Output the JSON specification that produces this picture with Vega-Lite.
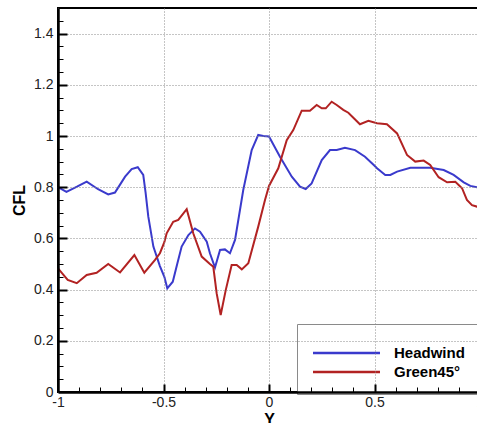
{
  "$schema": "https://vega.github.io/schema/vega-lite/v6.json",
  "width": 422,
  "height": 384,
  "autosize": {"type": "none"},
  "padding": {"left": 58, "top": 8, "right": 0, "bottom": 31},
  "background": "white",
  "config": {
    "view": {"stroke": "black", "strokeWidth": 2},
    "font": "Liberation Sans"
  },
  "datasets": {
    "curves": [
      {"case": "Headwind", "Y": -1.0, "CFL": 0.8},
      {"case": "Headwind", "Y": -0.96, "CFL": 0.782},
      {"case": "Headwind", "Y": -0.91, "CFL": 0.802},
      {"case": "Headwind", "Y": -0.864, "CFL": 0.822},
      {"case": "Headwind", "Y": -0.81, "CFL": 0.792},
      {"case": "Headwind", "Y": -0.762, "CFL": 0.772},
      {"case": "Headwind", "Y": -0.73, "CFL": 0.779},
      {"case": "Headwind", "Y": -0.7, "CFL": 0.818},
      {"case": "Headwind", "Y": -0.682, "CFL": 0.841},
      {"case": "Headwind", "Y": -0.651, "CFL": 0.871},
      {"case": "Headwind", "Y": -0.622, "CFL": 0.878},
      {"case": "Headwind", "Y": -0.596, "CFL": 0.848},
      {"case": "Headwind", "Y": -0.585, "CFL": 0.78},
      {"case": "Headwind", "Y": -0.572, "CFL": 0.685},
      {"case": "Headwind", "Y": -0.548, "CFL": 0.568},
      {"case": "Headwind", "Y": -0.517, "CFL": 0.492},
      {"case": "Headwind", "Y": -0.496, "CFL": 0.45},
      {"case": "Headwind", "Y": -0.482, "CFL": 0.405},
      {"case": "Headwind", "Y": -0.456, "CFL": 0.431},
      {"case": "Headwind", "Y": -0.435, "CFL": 0.5},
      {"case": "Headwind", "Y": -0.414, "CFL": 0.568},
      {"case": "Headwind", "Y": -0.382, "CFL": 0.613},
      {"case": "Headwind", "Y": -0.351, "CFL": 0.639},
      {"case": "Headwind", "Y": -0.327, "CFL": 0.626},
      {"case": "Headwind", "Y": -0.295, "CFL": 0.587},
      {"case": "Headwind", "Y": -0.28, "CFL": 0.542},
      {"case": "Headwind", "Y": -0.256, "CFL": 0.486},
      {"case": "Headwind", "Y": -0.232, "CFL": 0.555},
      {"case": "Headwind", "Y": -0.209, "CFL": 0.557},
      {"case": "Headwind", "Y": -0.185, "CFL": 0.542},
      {"case": "Headwind", "Y": -0.161, "CFL": 0.594},
      {"case": "Headwind", "Y": -0.122, "CFL": 0.789},
      {"case": "Headwind", "Y": -0.082, "CFL": 0.945},
      {"case": "Headwind", "Y": -0.051, "CFL": 1.004},
      {"case": "Headwind", "Y": -0.027, "CFL": 1.0},
      {"case": "Headwind", "Y": 0.0, "CFL": 0.998},
      {"case": "Headwind", "Y": 0.052, "CFL": 0.919},
      {"case": "Headwind", "Y": 0.108, "CFL": 0.841},
      {"case": "Headwind", "Y": 0.147, "CFL": 0.802},
      {"case": "Headwind", "Y": 0.174, "CFL": 0.793},
      {"case": "Headwind", "Y": 0.202, "CFL": 0.815},
      {"case": "Headwind", "Y": 0.25, "CFL": 0.906},
      {"case": "Headwind", "Y": 0.289, "CFL": 0.945},
      {"case": "Headwind", "Y": 0.321, "CFL": 0.945},
      {"case": "Headwind", "Y": 0.36, "CFL": 0.954},
      {"case": "Headwind", "Y": 0.408, "CFL": 0.945},
      {"case": "Headwind", "Y": 0.455, "CFL": 0.919},
      {"case": "Headwind", "Y": 0.499, "CFL": 0.885},
      {"case": "Headwind", "Y": 0.512, "CFL": 0.874},
      {"case": "Headwind", "Y": 0.551, "CFL": 0.848},
      {"case": "Headwind", "Y": 0.575, "CFL": 0.848},
      {"case": "Headwind", "Y": 0.607, "CFL": 0.861},
      {"case": "Headwind", "Y": 0.67, "CFL": 0.876},
      {"case": "Headwind", "Y": 0.764, "CFL": 0.876},
      {"case": "Headwind", "Y": 0.828, "CFL": 0.867},
      {"case": "Headwind", "Y": 0.875, "CFL": 0.848},
      {"case": "Headwind", "Y": 0.923, "CFL": 0.819},
      {"case": "Headwind", "Y": 0.954, "CFL": 0.805},
      {"case": "Headwind", "Y": 0.986, "CFL": 0.8},
      {"case": "Headwind", "Y": 1.0, "CFL": 0.8},
      {"case": "Green45°", "Y": -1.0, "CFL": 0.483},
      {"case": "Green45°", "Y": -0.954, "CFL": 0.438},
      {"case": "Green45°", "Y": -0.911, "CFL": 0.425},
      {"case": "Green45°", "Y": -0.864, "CFL": 0.457},
      {"case": "Green45°", "Y": -0.817, "CFL": 0.466},
      {"case": "Green45°", "Y": -0.762, "CFL": 0.5},
      {"case": "Green45°", "Y": -0.706, "CFL": 0.467},
      {"case": "Green45°", "Y": -0.638, "CFL": 0.535},
      {"case": "Green45°", "Y": -0.591, "CFL": 0.466},
      {"case": "Green45°", "Y": -0.54, "CFL": 0.516},
      {"case": "Green45°", "Y": -0.517, "CFL": 0.542},
      {"case": "Green45°", "Y": -0.496, "CFL": 0.585},
      {"case": "Green45°", "Y": -0.485, "CFL": 0.62},
      {"case": "Green45°", "Y": -0.454, "CFL": 0.665},
      {"case": "Green45°", "Y": -0.43, "CFL": 0.672},
      {"case": "Green45°", "Y": -0.39, "CFL": 0.714},
      {"case": "Green45°", "Y": -0.359, "CFL": 0.62},
      {"case": "Green45°", "Y": -0.319, "CFL": 0.529},
      {"case": "Green45°", "Y": -0.28, "CFL": 0.5},
      {"case": "Green45°", "Y": -0.264, "CFL": 0.489},
      {"case": "Green45°", "Y": -0.248, "CFL": 0.385},
      {"case": "Green45°", "Y": -0.229, "CFL": 0.301},
      {"case": "Green45°", "Y": -0.205, "CFL": 0.398},
      {"case": "Green45°", "Y": -0.177, "CFL": 0.496},
      {"case": "Green45°", "Y": -0.153, "CFL": 0.496},
      {"case": "Green45°", "Y": -0.129, "CFL": 0.479},
      {"case": "Green45°", "Y": -0.098, "CFL": 0.503},
      {"case": "Green45°", "Y": -0.051, "CFL": 0.646},
      {"case": "Green45°", "Y": -0.019, "CFL": 0.75},
      {"case": "Green45°", "Y": 0.0, "CFL": 0.805},
      {"case": "Green45°", "Y": 0.044, "CFL": 0.874},
      {"case": "Green45°", "Y": 0.084, "CFL": 0.984},
      {"case": "Green45°", "Y": 0.115, "CFL": 1.023},
      {"case": "Green45°", "Y": 0.155, "CFL": 1.099},
      {"case": "Green45°", "Y": 0.194, "CFL": 1.099},
      {"case": "Green45°", "Y": 0.226, "CFL": 1.121},
      {"case": "Green45°", "Y": 0.25, "CFL": 1.108},
      {"case": "Green45°", "Y": 0.269, "CFL": 1.108},
      {"case": "Green45°", "Y": 0.297, "CFL": 1.134},
      {"case": "Green45°", "Y": 0.321, "CFL": 1.121},
      {"case": "Green45°", "Y": 0.352, "CFL": 1.102},
      {"case": "Green45°", "Y": 0.376, "CFL": 1.091},
      {"case": "Green45°", "Y": 0.431, "CFL": 1.046},
      {"case": "Green45°", "Y": 0.471, "CFL": 1.059},
      {"case": "Green45°", "Y": 0.512, "CFL": 1.05},
      {"case": "Green45°", "Y": 0.559, "CFL": 1.046},
      {"case": "Green45°", "Y": 0.607, "CFL": 1.01},
      {"case": "Green45°", "Y": 0.654, "CFL": 0.926},
      {"case": "Green45°", "Y": 0.693, "CFL": 0.9},
      {"case": "Green45°", "Y": 0.733, "CFL": 0.904},
      {"case": "Green45°", "Y": 0.764, "CFL": 0.887},
      {"case": "Green45°", "Y": 0.804, "CFL": 0.839},
      {"case": "Green45°", "Y": 0.844, "CFL": 0.819},
      {"case": "Green45°", "Y": 0.883, "CFL": 0.821},
      {"case": "Green45°", "Y": 0.915, "CFL": 0.796},
      {"case": "Green45°", "Y": 0.938, "CFL": 0.75},
      {"case": "Green45°", "Y": 0.962, "CFL": 0.73},
      {"case": "Green45°", "Y": 0.986, "CFL": 0.724},
      {"case": "Green45°", "Y": 1.0, "CFL": 0.722}
    ]
  },
  "data": {"name": "curves"},
  "layer": [
    {
      "mark": {"type": "line", "strokeWidth": 2},
      "encoding": {
        "x": {
          "field": "Y", "type": "quantitative",
          "scale": {"domain": [-1, 1], "nice": false, "zero": false},
          "axis": {
            "orient": "bottom", "zindex": 2,
            "values": [-1, -0.5, 0, 0.5, 1],
            "labelExpr": "toString(datum.value)",
            "labelFont": "Liberation Sans", "labelFontSize": 14, "labelColor": "#222",
            "labelPadding": 3, "labelFlush": false, "labelOverlap": false,
            "ticks": false,
            "domain": true, "domainColor": "black", "domainWidth": 2.5,
            "grid": true, "gridColor": "#8a8a8a", "gridDash": [1, 2], "gridWidth": 1,
            "title": "Y", "titleFont": "Liberation Sans", "titleFontSize": 16, "titleFontWeight": "bold", "titleColor": "black", "titlePadding": 2
          }
        },
        "y": {
          "field": "CFL", "type": "quantitative",
          "scale": {"domain": [0, 1.5], "nice": false, "zero": false},
          "axis": {
            "orient": "left", "zindex": 2,
            "values": [0, 0.2, 0.4, 0.6, 0.8, 1, 1.2, 1.4],
            "labelExpr": "toString(datum.value)",
            "labelFont": "Liberation Sans", "labelFontSize": 14, "labelColor": "#222",
            "labelPadding": 5, "labelFlush": false, "labelOverlap": false,
            "ticks": false,
            "domain": true, "domainColor": "black", "domainWidth": 2.5,
            "grid": true, "gridColor": "#8a8a8a", "gridDash": [1, 2], "gridWidth": 1,
            "title": "CFL", "titleFont": "Liberation Sans", "titleFontSize": 16, "titleFontWeight": "bold", "titleColor": "black", "titlePadding": 6
          }
        },
        "color": {
          "field": "case", "type": "nominal",
          "scale": {"domain": ["Headwind", "Green45°"], "range": ["#3a3acc", "#b22222"]},
          "legend": {
            "orient": "none", "legendX": 239, "legendY": 316,
            "title": " ", "titleFontSize": 5, "titlePadding": 2.5,
            "fillColor": "white", "strokeColor": "#8a8a8a",
            "padding": 14,
            "symbolType": "M-6.7,0H6.7", "symbolSize": 100, "symbolStrokeWidth": 2.5,
            "symbolOffset": 28,
            "labelOffset": 40,
            "labelFont": "Liberation Sans", "labelFontSize": 15, "labelFontWeight": "bold", "labelColor": "black",
            "rowPadding": 3
          }
        }
      }
    },
    {
      "mark": {"type": "line", "strokeOpacity": 0},
      "encoding": {
        "x": {
          "field": "Y", "type": "quantitative",
          "axis": {
            "orient": "bottom", "zindex": 2, "values": [-0.5, 0, 0.5],
            "labels": false, "grid": false, "domain": false,
            "ticks": true, "tickSize": -8, "tickWidth": 2, "tickColor": "black",
            "title": null
          }
        },
        "y": {
          "field": "CFL", "type": "quantitative",
          "axis": {
            "orient": "left", "zindex": 2, "values": [0.2, 0.4, 0.6, 0.8, 1, 1.2, 1.4],
            "labels": false, "grid": false, "domain": false,
            "ticks": true, "tickSize": -9, "tickWidth": 2, "tickColor": "black",
            "title": null
          }
        },
        "detail": {"field": "case"}
      }
    },
    {
      "mark": {"type": "line", "strokeOpacity": 0},
      "encoding": {
        "x": {
          "field": "Y", "type": "quantitative",
          "axis": {
            "orient": "bottom", "zindex": 2,
            "values": [-0.9, -0.8, -0.7, -0.6, -0.4, -0.3, -0.2, -0.1, 0.1, 0.2, 0.3, 0.4, 0.6, 0.7, 0.8, 0.9],
            "labels": false, "grid": false, "domain": false,
            "ticks": true, "tickSize": -5, "tickWidth": 1, "tickColor": "black",
            "title": null
          }
        },
        "y": {
          "field": "CFL", "type": "quantitative",
          "axis": {
            "orient": "left", "zindex": 2,
            "values": [0.05, 0.1, 0.15, 0.25, 0.3, 0.35, 0.45, 0.5, 0.55, 0.65, 0.7, 0.75, 0.85, 0.9, 0.95, 1.05, 1.1, 1.15, 1.25, 1.3, 1.35, 1.45],
            "labels": false, "grid": false, "domain": false,
            "ticks": true, "tickSize": -5, "tickWidth": 1, "tickColor": "black",
            "title": null
          }
        },
        "detail": {"field": "case"}
      }
    }
  ],
  "resolve": {"axis": {"x": "independent", "y": "independent"}}
}
